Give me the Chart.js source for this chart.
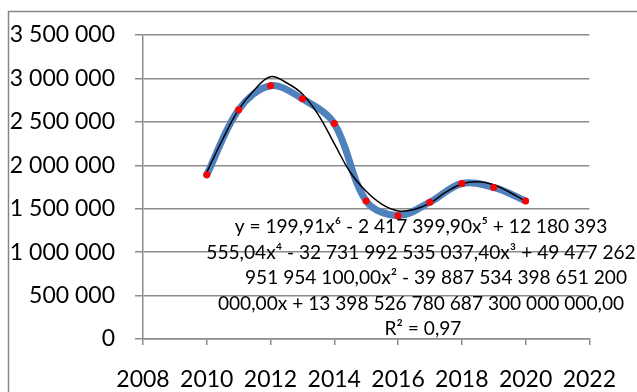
<!DOCTYPE html>
<html>
<head>
<meta charset="utf-8">
<script src="https://cdn.jsdelivr.net/npm/chart.js@4/dist/chart.umd.min.js"></script>
<style>
  html, body { margin: 0; padding: 0; background: #fff; }
  #wrap { width: 637px; height: 392px; }
</style>
</head>
<body>
<div id="wrap"><canvas id="chart" width="637" height="392"></canvas></div>
<script>
// values
const years = [2010, 2011, 2012, 2013, 2014, 2015, 2016, 2017, 2018, 2019, 2020];
const amounts = [1890000, 2640000, 2915000, 2765000, 2480000, 1590000, 1420000, 1575000, 1790000, 1745000, 1590000];

// the polynomial trendline as drawn
const trendYears = [2010, 2010.5, 2011, 2011.5, 2012, 2012.5, 2013, 2013.5, 2014, 2014.5, 2015, 2015.5, 2016, 2016.5, 2017, 2017.5, 2018, 2018.5, 2019, 2019.5, 2020];
const trendValues = [1920000, 2300000, 2640000, 2870000, 3020000, 2950000, 2820000, 2580000, 2250000, 1920000, 1700000, 1550000, 1475000, 1490000, 1565000, 1690000, 1785000, 1810000, 1775000, 1690000, 1585000];

const xTickLabels = ['2008', '2010', '2012', '2014', '2016', '2018', '2020', '2022'];
const yTickLabels = ['0', '500 000', '1 000 000', '1 500 000', '2 000 000', '2 500 000', '3 000 000', '3 500 000'];

const equationLines = [
  'y = 199,91x\u2076 - 2 417 399,90x\u2075 + 12 180 393',
  '555,04x\u2074 - 32 731 992 535 037,40x\u00B3 + 49 477 262',
  '951 954 100,00x\u00B2 - 39 887 534 398 651 200',
  '000,00x + 13 398 526 780 687 300 000 000,00',
  'R\u00B2 = 0,97'
];

const gridGrey = '#8c8c8c';
const font = 'Lato, "DejaVu Sans", sans-serif';

const toXY = (xs, ys) => xs.map((x, i) => ({ x: x, y: ys[i] }));

const frame = {
  id: 'frame',
  beforeDraw(c) {
    const ctx = c.ctx;
    ctx.save();
    ctx.fillStyle = '#fff';
    ctx.fillRect(0, 0, c.width, c.height);
    ctx.strokeStyle = '#868686';
    ctx.lineWidth = 1.5;
    ctx.strokeRect(8.5, 11.5, 700, 500);
    ctx.restore();
  },
  afterDraw(c) {
    const ctx = c.ctx;
    ctx.save();
    ctx.fillStyle = '#000';
    ctx.textAlign = 'center';
    ctx.textBaseline = 'middle';
    ctx.font = '19px ' + font;
    // fit first line to the width seen in the picture
    const w = ctx.measureText(equationLines[0]).width;
    const size = 19 * 373 / w;
    ctx.font = size.toFixed(2) + 'px ' + font;
    const centers = [421, 421, 436, 421, 423];
    const rows = [227, 252.5, 278, 303.5, 329];
    equationLines.forEach((t, i) => ctx.fillText(t, centers[i], rows[i]));
    ctx.restore();
  }
};

new Chart(document.getElementById('chart').getContext('2d'), {
  type: 'scatter',
  data: {
    datasets: [
      {
        label: 'points',
        data: toXY(years, amounts),
        showLine: false,
        pointRadius: 3.5,
        pointBackgroundColor: '#ff0000',
        pointBorderColor: '#ff0000',
        pointBorderWidth: 0,
        order: 0
      },
      {
        label: 'trend',
        data: toXY(trendYears, trendValues),
        showLine: true,
        borderColor: '#000',
        borderWidth: 1.5,
        pointRadius: 0,
        tension: 0.4,
        order: 1
      },
      {
        label: 'series',
        data: toXY(years, amounts),
        showLine: true,
        borderColor: '#4f81bd',
        borderWidth: 7,
        borderCapStyle: 'round',
        borderJoinStyle: 'round',
        pointRadius: 0,
        tension: 0.35,
        order: 2
      }
    ]
  },
  options: {
    responsive: false,
    animation: false,
    devicePixelRatio: 1,
    layout: { padding: { top: 35, right: 31, left: 0, bottom: 0 } },
    plugins: { legend: { display: false }, tooltip: { enabled: false } },
    scales: {
      x: {
        type: 'linear',
        min: 2008,
        max: 2022,
        afterFit: s => { s.height = 53; },
        ticks: {
          stepSize: 2,
          color: '#000',
          padding: 21,
          font: { family: font, size: 23 },
          maxRotation: 0,
          callback: (v, i) => xTickLabels[i]
        },
        grid: { drawOnChartArea: false, color: gridGrey, lineWidth: 1.5, tickLength: 6 },
        border: { display: true, color: gridGrey, width: 1.5 }
      },
      y: {
        min: 0,
        max: 3500000,
        afterFit: s => { s.width = 143; },
        ticks: {
          stepSize: 500000,
          color: '#000',
          padding: 20,
          font: { family: font, size: 23 },
          callback: (v, i) => yTickLabels[i]
        },
        grid: { color: gridGrey, lineWidth: 1.5, tickLength: 8 },
        border: { display: true, color: gridGrey, width: 1.5 }
      }
    }
  },
  plugins: [frame]
});
</script>
</body>
</html>
